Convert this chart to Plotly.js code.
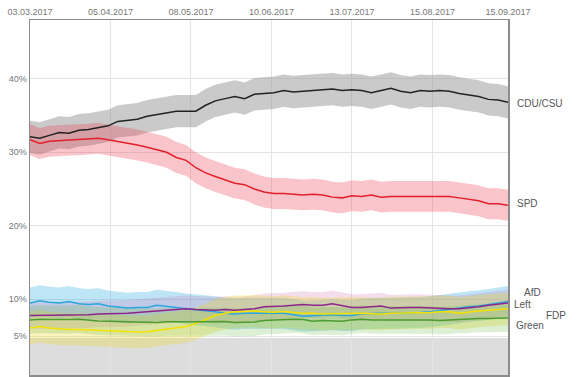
<!DOCTYPE html>
<html><head><meta charset="utf-8">
<script src="https://cdn.plot.ly/plotly-3.0.1.min.js"></script>
<style>html,body{margin:0;padding:0;background:#fff}#chart{width:580px;height:377px}</style>
</head><body><div id="chart"></div>
<script>
const dates = ["2017-03-03","2017-03-07","2017-03-11","2017-03-15","2017-03-19","2017-03-23","2017-03-27","2017-03-31","2017-04-04","2017-04-08","2017-04-12","2017-04-16","2017-04-20","2017-04-24","2017-04-28","2017-05-02","2017-05-06","2017-05-10","2017-05-14","2017-05-18","2017-05-22","2017-05-26","2017-05-30","2017-06-03","2017-06-07","2017-06-11","2017-06-15","2017-06-19","2017-06-23","2017-06-27","2017-07-01","2017-07-05","2017-07-09","2017-07-13","2017-07-17","2017-07-21","2017-07-25","2017-07-29","2017-08-02","2017-08-06","2017-08-10","2017-08-14","2017-08-18","2017-08-22","2017-08-26","2017-08-30","2017-09-03","2017-09-07","2017-09-11","2017-09-15"];
const cdu = [32.1,31.9,32.3,32.7,32.6,33.0,33.1,33.3,33.6,34.2,34.4,34.5,34.9,35.1,35.4,35.6,35.6,35.6,36.4,37.0,37.3,37.6,37.3,37.9,38.0,38.1,38.4,38.2,38.3,38.4,38.5,38.6,38.4,38.5,38.4,38.1,38.4,38.7,38.3,38.1,38.4,38.3,38.4,38.3,38.0,37.8,37.6,37.2,37.1,36.8];
const spd = [31.7,31.2,31.5,31.6,31.6,31.7,31.8,31.9,31.7,31.5,31.2,31.0,30.7,30.4,30.0,29.3,28.9,27.9,27.2,26.7,26.2,25.8,25.6,25.0,24.6,24.4,24.4,24.3,24.2,24.3,24.2,23.9,23.8,24.1,24.0,24.2,23.9,24.0,24.0,23.9,24.0,24.0,24.0,24.0,23.8,23.6,23.4,23.0,23.0,22.8];
const afd = [9.5,9.8,9.6,9.5,9.7,9.4,9.3,9.4,9.1,9.0,8.8,8.9,8.9,9.2,9.1,8.9,8.7,8.6,8.5,8.3,8.1,8.0,8.1,8.1,8.0,8.0,8.1,7.9,7.7,7.75,7.8,7.9,7.8,7.8,8.0,8.1,8.1,8.1,8.1,8.2,8.2,8.3,8.5,8.6,8.8,9.0,9.1,9.3,9.5,9.7];
const left = [7.8,7.8,7.9,7.8,7.8,7.9,7.9,8.0,8.0,8.0,8.1,8.2,8.3,8.4,8.5,8.7,8.7,8.6,8.5,8.5,8.6,8.5,8.6,8.7,9.0,9.0,9.1,9.2,9.3,9.2,9.2,9.4,9.1,8.9,8.9,9.0,9.1,8.8,8.9,8.9,8.9,8.8,8.7,8.7,8.7,8.8,9.0,9.2,9.3,9.5];
const fdp = [6.1,6.3,6.1,5.95,5.9,5.9,5.85,5.8,5.65,5.6,5.55,5.55,5.6,5.75,5.9,6.1,6.3,6.7,7.2,7.8,8.1,8.3,8.35,8.4,8.3,8.25,8.35,8.2,8.1,8.1,8.0,8.05,8.1,8.1,8.1,8.05,8.0,8.1,8.1,8.1,8.15,8.2,8.3,8.3,8.1,8.3,8.4,8.5,8.55,8.7];
const green = [7.2,7.3,7.25,7.2,7.25,7.3,7.15,7.05,7.0,6.95,6.93,6.9,6.9,6.85,6.95,6.98,6.95,6.93,6.98,6.98,6.98,6.85,6.85,6.9,7.1,7.2,7.2,7.3,7.25,7.0,7.1,7.05,7.0,7.2,7.3,7.2,7.2,7.3,7.2,7.2,7.2,7.2,7.1,7.2,7.2,7.4,7.4,7.4,7.45,7.45];
const parties = ["CDU/CSU","SPD","AfD","Left","FDP","Green"];
const margins = [2.2, 2.1, 2.1, 1.8, 2.2, 1.9];
const tickDates = ["2017-03-03","2017-04-05","2017-05-08","2017-06-10","2017-07-13","2017-08-15","2017-09-15"];
const tickLabels = ["03.03.2017","05.04.2017","08.05.2017","10.06.2017","13.07.2017","15.08.2017","15.09.2017"];
const yTicks = [5,10,20,30,40];
const yTickLabels = ["5%","10%","20%","30%","40%"];

const series = [cdu, spd, afd, left, fdp, green];
const lineColors = ["#222222","#e3202a","#2aa6dc","#8e258d","#f5e100","#4b9b2e"];
const bandColors = ["rgba(150,150,150,0.5)","rgba(235,60,80,0.3)","rgba(41,168,224,0.3)","rgba(200,90,170,0.2)","rgba(235,215,40,0.3)","rgba(100,180,60,0.22)"];
const labelY = [36.7, 23.0, 10.9, 9.25, 7.75, 6.4];
const labelX = [1.015, 1.015, 1.03, 1.008, 1.075, 1.013];

const traces = [];
series.forEach((s,i)=>{
  traces.push({x:dates,y:s.map(v=>v+margins[i]),type:"scatter",mode:"lines",line:{width:0,color:bandColors[i]},hoverinfo:"skip",showlegend:false});
  traces.push({x:dates,y:s.map(v=>v-margins[i]),type:"scatter",mode:"lines",line:{width:0,color:bandColors[i]},fill:"tonexty",fillcolor:bandColors[i],hoverinfo:"skip",showlegend:false});
});
series.forEach((s,i)=>{
  traces.push({x:dates,y:s,type:"scatter",mode:"lines",name:parties[i],line:{width:1.5,color:lineColors[i]},showlegend:false});
});

const annotations = parties.map((p,i)=>({xref:"paper",yref:"y",x:labelX[i],y:labelY[i],text:p,showarrow:false,xanchor:"left",font:{size:10,color:"#555",family:"Liberation Sans, Arial, sans-serif"}}));

const layout = {
  width:580,height:377,
  margin:{l:30,r:72,t:20,b:2},
  paper_bgcolor:"#fff",plot_bgcolor:"#fff",
  font:{family:"Liberation Sans, Arial, sans-serif",size:9,color:"#777"},
  xaxis:{type:"date",side:"top",range:["2017-03-03","2017-09-15"],tickvals:tickDates,ticktext:tickLabels,
    showgrid:true,gridcolor:"#e4e4e4",gridwidth:1,zeroline:false,showline:true,mirror:true,linecolor:"#8c8c8c",linewidth:1.5,ticks:"",
    ticklabelstandoff:0,tickfont:{size:9,color:"#777"}},
  yaxis:{range:[-0.3,48],tickvals:yTicks,ticktext:yTickLabels,showgrid:true,gridcolor:"#e4e4e4",zeroline:false,
    showline:true,mirror:true,linecolor:"#8c8c8c",linewidth:1.5,ticks:"",tickfont:{size:9,color:"#777"}},
  shapes:[{type:"rect",xref:"paper",yref:"y",x0:0,x1:1,y0:-0.3,y1:4.75,fillcolor:"#dddddd",line:{width:0},layer:"below"}],
  annotations:annotations
};
Plotly.newPlot("chart",traces,layout,{staticPlot:true,displayModeBar:false});
</script></body></html>
